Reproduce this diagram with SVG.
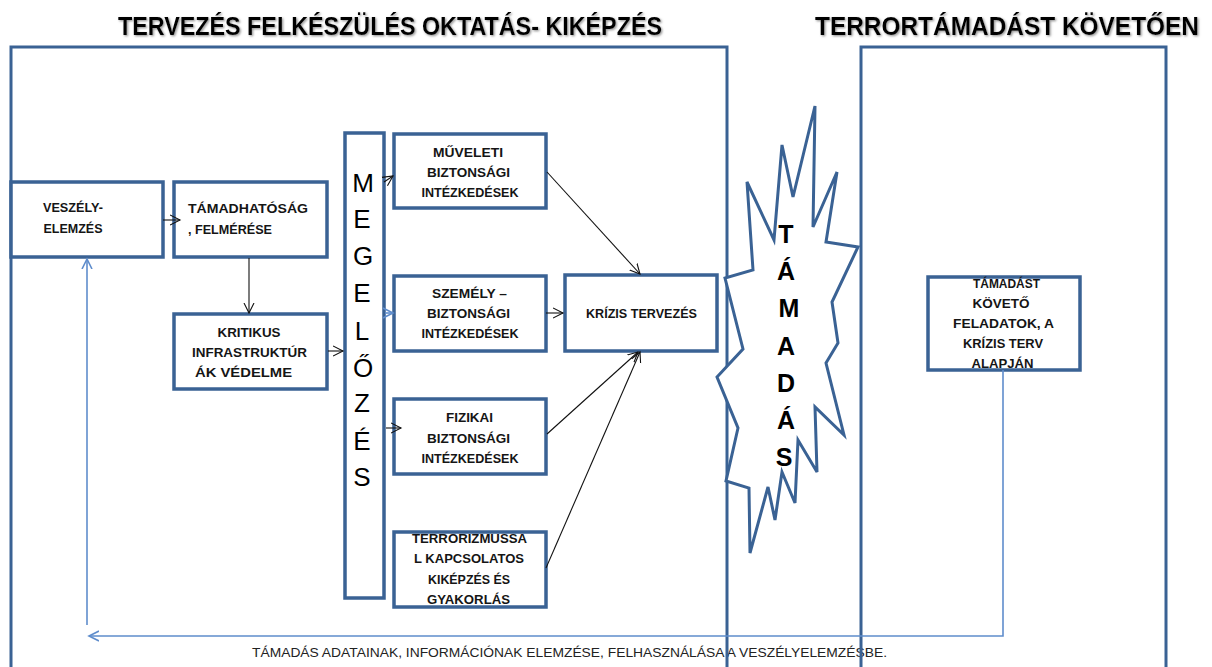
<svg xmlns="http://www.w3.org/2000/svg" width="1212" height="667" viewBox="0 0 1212 667">
<style>
.frame{fill:none;stroke:#3a6294;stroke-width:3}
.box{fill:#fff;stroke:#3a6294;stroke-width:3.5}
.t{font-family:"Liberation Sans",Arial,sans-serif;font-weight:bold;font-size:12.5px;fill:#151515;text-anchor:middle}
.title{font-family:"Liberation Sans",Arial,sans-serif;font-weight:bold;font-size:25px;fill:#000}
.big{font-family:"Liberation Sans",Arial,sans-serif;font-size:26px;fill:#000;text-anchor:middle}
.bigb{font-family:"Liberation Sans",Arial,sans-serif;font-weight:bold;font-size:25px;fill:#000;text-anchor:middle}
.foot{font-family:"Liberation Sans",Arial,sans-serif;font-size:13px;fill:#222}
.ar{fill:none;stroke:#111;stroke-width:1.1}
.ab{fill:none;stroke:#5f8dcc;stroke-width:1.6}
</style>
<defs>
<filter id="sh" x="-2%" y="-30%" width="104%" height="160%">
<feDropShadow dx="1.2" dy="1.2" stdDeviation="0.8" flood-color="#777" flood-opacity="0.8"/>
</filter>
<marker id="mk" markerUnits="userSpaceOnUse" markerWidth="12" markerHeight="12" refX="10" refY="5" orient="auto" viewBox="0 0 12 10">
<path d="M0,0 L10,5 L0,10" fill="none" stroke="#111" stroke-width="1.1"/>
</marker>
<marker id="mb" markerUnits="userSpaceOnUse" markerWidth="12" markerHeight="12" refX="10" refY="5" orient="auto" viewBox="0 0 12 10">
<path d="M0,0 L10,5 L0,10" fill="none" stroke="#5f8dcc" stroke-width="1.6"/>
</marker>
</defs>
<rect width="1212" height="667" fill="#fff"/>

<g id="titles" filter="url(#sh)">
<text class="title" x="118" y="35" textLength="544" lengthAdjust="spacingAndGlyphs">TERVEZÉS FELKÉSZÜLÉS OKTATÁS- KIKÉPZÉS</text>
<text class="title" x="815" y="35" textLength="384" lengthAdjust="spacingAndGlyphs">TERRORTÁMADÁST KÖVETŐEN</text>
</g>

<text id="footer" class="foot" x="252" y="657" textLength="635" lengthAdjust="spacingAndGlyphs">TÁMADÁS ADATAINAK, INFORMÁCIÓNAK ELEMZÉSE, FELHASZNÁLÁSA A VESZÉLYELEMZÉSBE.</text>

<g id="frames">
<rect class="frame" x="11" y="47" width="716" height="640"/>
<rect class="frame" x="861" y="47" width="305" height="640"/>
</g>

<g id="tamadas">
<polygon points="815,106 813,227 837,172 826,242 858,247 832,302 838,343 826,363 844,435 815,407 817,472 798,440 795,503 782,472 775,520 768,487 750,553 749,488 726,481 738,428 717,377 743,349 725,278 753,270 747,182 774,240 782,145 793,197" fill="#fff" stroke="#3a6294" stroke-width="3" stroke-linejoin="miter"/>
<text class="bigb" x="786" y="243">T</text>
<text class="bigb" x="786" y="280">Á</text>
<text class="bigb" x="789" y="317">M</text>
<text class="bigb" x="786" y="355">A</text>
<text class="bigb" x="786" y="392">D</text>
<text class="bigb" x="786" y="429">Á</text>
<text class="bigb" x="784" y="466">S</text>
</g>

<g id="veszely">
<rect class="box" x="11" y="182" width="152" height="75"/>
<text class="t" x="73" y="212" textLength="60" lengthAdjust="spacingAndGlyphs">VESZÉLY-</text>
<text class="t" x="73" y="233" textLength="59" lengthAdjust="spacingAndGlyphs">ELEMZÉS</text>
</g>

<g id="tamadhatosag">
<rect class="box" x="174" y="182" width="153" height="75"/>
<text class="t" x="248" y="213" textLength="120" lengthAdjust="spacingAndGlyphs">TÁMADHATÓSÁG</text>
<text class="t" x="230" y="234" textLength="84" lengthAdjust="spacingAndGlyphs">, FELMÉRÉSE</text>
</g>

<g id="kritikus">
<rect class="box" x="174" y="314" width="153" height="75"/>
<text class="t" x="249" y="337" textLength="63" lengthAdjust="spacingAndGlyphs">KRITIKUS</text>
<text class="t" x="249.5" y="357" textLength="115" lengthAdjust="spacingAndGlyphs">INFRASTRUKTÚR</text>
<text class="t" x="243.5" y="377" textLength="97" lengthAdjust="spacingAndGlyphs">ÁK VÉDELME</text>
</g>

<g id="megelozes">
<rect class="box" x="345" y="133" width="39" height="465"/>
<text class="big" x="363" y="192">M</text>
<text class="big" x="362" y="228">E</text>
<text class="big" x="363" y="265">G</text>
<text class="big" x="362" y="302">E</text>
<text class="big" x="362" y="340">L</text>
<text class="big" x="363" y="377">Ő</text>
<text class="big" x="362" y="412">Z</text>
<text class="big" x="362" y="450">É</text>
<text class="big" x="362" y="486">S</text>
</g>

<g id="muveleti">
<rect class="box" x="394" y="134" width="152" height="74"/>
<text class="t" x="468" y="157" textLength="70" lengthAdjust="spacingAndGlyphs">MŰVELETI</text>
<text class="t" x="468.5" y="177" textLength="83" lengthAdjust="spacingAndGlyphs">BIZTONSÁGI</text>
<text class="t" x="470" y="197" textLength="97" lengthAdjust="spacingAndGlyphs">INTÉZKEDÉSEK</text>
</g>

<g id="szemely">
<rect class="box" x="394" y="276" width="152" height="75"/>
<text class="t" x="469.5" y="298" textLength="75" lengthAdjust="spacingAndGlyphs">SZEMÉLY –</text>
<text class="t" x="468.5" y="318" textLength="83" lengthAdjust="spacingAndGlyphs">BIZTONSÁGI</text>
<text class="t" x="470" y="338" textLength="97" lengthAdjust="spacingAndGlyphs">INTÉZKEDÉSEK</text>
</g>

<g id="krizis">
<rect class="box" x="565" y="275" width="152" height="76"/>
<text class="t" x="641.5" y="318" textLength="111" lengthAdjust="spacingAndGlyphs">KRÍZIS TERVEZÉS</text>
</g>

<g id="fizikai">
<rect class="box" x="394" y="399" width="152" height="75"/>
<text class="t" x="469.5" y="422" textLength="47" lengthAdjust="spacingAndGlyphs">FIZIKAI</text>
<text class="t" x="468.5" y="443" textLength="83" lengthAdjust="spacingAndGlyphs">BIZTONSÁGI</text>
<text class="t" x="470" y="463" textLength="97" lengthAdjust="spacingAndGlyphs">INTÉZKEDÉSEK</text>
</g>

<g id="terrorizmus">
<rect class="box" x="394" y="532" width="152" height="75"/>
<text class="t" x="469.5" y="543" textLength="115" lengthAdjust="spacingAndGlyphs">TERRORIZMUSSA</text>
<text class="t" x="469" y="563" textLength="110" lengthAdjust="spacingAndGlyphs">L KAPCSOLATOS</text>
<text class="t" x="469" y="584" textLength="82" lengthAdjust="spacingAndGlyphs">KIKÉPZÉS ÉS</text>
<text class="t" x="468.5" y="604" textLength="83" lengthAdjust="spacingAndGlyphs">GYAKORLÁS</text>
</g>

<g id="kovetofeladatok">
<rect class="box" x="928" y="277" width="152" height="93"/>
<text class="t" x="1006.5" y="288" textLength="67" lengthAdjust="spacingAndGlyphs">TÁMADÁST</text>
<text class="t" x="1001" y="308" textLength="57" lengthAdjust="spacingAndGlyphs">KÖVETŐ</text>
<text class="t" x="1003.5" y="328" textLength="101" lengthAdjust="spacingAndGlyphs">FELADATOK, A</text>
<text class="t" x="1003" y="348" textLength="80" lengthAdjust="spacingAndGlyphs">KRÍZIS TERV</text>
<text class="t" x="1002.5" y="368" textLength="62" lengthAdjust="spacingAndGlyphs">ALAPJÁN</text>
</g>

<g id="connectors">
<line class="ar" x1="163" y1="220" x2="180" y2="220" marker-end="url(#mk)"/>
<line class="ar" x1="249" y1="258" x2="249" y2="313" marker-end="url(#mk)"/>
<line class="ar" x1="328" y1="351" x2="343" y2="351" marker-end="url(#mk)"/>
<line class="ar" x1="384" y1="182" x2="393" y2="176" marker-end="url(#mk)"/>
<line class="ab" x1="385" y1="313" x2="393" y2="313" marker-end="url(#mb)"/>
<line class="ar" x1="386" y1="428" x2="401" y2="428" marker-end="url(#mk)"/>
<line class="ar" x1="546" y1="313" x2="563" y2="313" marker-end="url(#mk)"/>
<line class="ar" x1="547" y1="172" x2="640" y2="274" marker-end="url(#mk)"/>
<line class="ar" x1="547" y1="434" x2="638" y2="352" marker-end="url(#mk)"/>
<line class="ar" x1="546" y1="568" x2="640" y2="352" marker-end="url(#mk)"/>
<polyline class="ab" points="1003,370 1003,636 89,636" marker-end="url(#mb)"/>
<line class="ab" x1="87" y1="625" x2="87" y2="259" marker-end="url(#mb)"/>
</g>
</svg>
